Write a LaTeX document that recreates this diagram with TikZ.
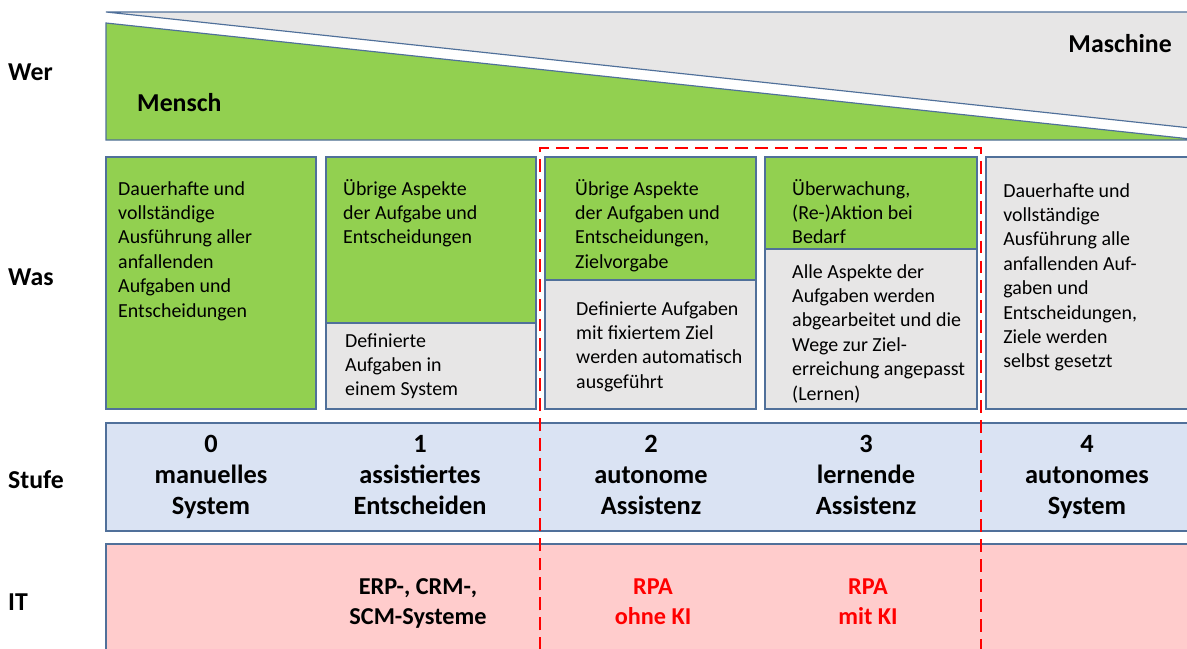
\documentclass[tikz,border=0pt]{standalone}
\usepackage{fontspec}
\setmainfont{Carlito}
\definecolor{mgreen}{HTML}{92D050}
\definecolor{mgray}{HTML}{E7E6E6}
\definecolor{mblue}{HTML}{DAE3F3}
\definecolor{mpink}{HTML}{FFCCCC}
\definecolor{mline}{HTML}{50709A}
\definecolor{mred}{HTML}{FF0000}
\tikzset{
  box/.style={draw=mline, line width=1pt},
  lbl/.style={anchor=base west, inner sep=0pt, font=\fontsize{22}{26}\selectfont\bfseries},
  wastext/.style={anchor=north west, inner sep=0pt, align=left, font=\fontsize{17}{20.8}\selectfont},
  stufetext/.style={anchor=north, inner sep=0pt, align=center, font=\fontsize{22.5}{26.4}\selectfont\bfseries},
  ittext/.style={anchor=north, inner sep=0pt, align=center, font=\fontsize{20.7}{25.5}\selectfont\bfseries},
  reddash/.style={draw=mred, line width=1.7pt, dash pattern=on 11pt off 6pt},
}
\begin{document}
\begin{tikzpicture}[x=0.03cm,y=-0.03cm]
\useasboundingbox (0,0) rectangle (1187,648);
\clip (0,0) rectangle (1187,648);
% Wer row
\filldraw[box, fill=mgray] (106,12) -- (1200,12) -- (1200,129) -- cycle;
\filldraw[box, fill=mgreen] (106,23) -- (1200,140) -- (106,140) -- cycle;
% Was row
\filldraw[box, fill=mgreen] (106,157) rectangle (316,409);
\filldraw[box, fill=mgreen] (326,157) rectangle (536,323);
\filldraw[box, fill=mgray] (326,323) rectangle (536,409);
\filldraw[box, fill=mgreen] (545,157) rectangle (756,280);
\filldraw[box, fill=mgray] (545,280) rectangle (756,409);
\filldraw[box, fill=mgreen] (765,157) rectangle (977,249);
\filldraw[box, fill=mgray] (765,249) rectangle (977,409);
\filldraw[box, fill=mgray] (986,157) rectangle (1200,409);
% Stufe row
\filldraw[box, fill=mblue] (106,423) rectangle (1200,531);
% IT row
\filldraw[box, fill=mpink] (106,544) rectangle (1200,670);
% red dashed frame
\draw[reddash] (540,670) -- (540,148) -- (981,148) -- (981,670);
% left labels
\node[lbl] (wer) at (8,81) {Wer};
\node[lbl] (was) at (8,285) {Was};
\node[lbl] (stufe) at (8,488) {Stufe};
\node[lbl] (it) at (8,610) {IT};
\node[lbl] (mensch) at (137,112) {Mensch};
\node[lbl, anchor=base east] (maschine) at (1172,53) {Maschine};
% Was texts
\node[wastext] (w0) at (118,177.9) {\strut Dauerhafte und\\vollständige\\Ausführung aller\\anfallenden\\Aufgaben und\\Entscheidungen};
\node[wastext] (w1a) at (343,177.9) {\strut Übrige Aspekte\\der Aufgabe und\\Entscheidungen};
\node[wastext] (w1b) at (345,329.9) {\strut Definierte\\Aufgaben in\\einem System};
\node[wastext] (w2a) at (575,177.9) {\strut Übrige Aspekte\\der Aufgaben und\\Entscheidungen,\\Zielvorgabe};
\node[wastext] (w2b) at (576,297.9) {\strut Definierte Aufgaben\\mit fixiertem Ziel\\werden automatisch\\ausgeführt};
\node[wastext] (w3a) at (792,177.9) {\strut Überwachung,\\(Re-)Aktion bei\\Bedarf};
\node[wastext] (w3b) at (792,260.9) {\strut Alle Aspekte der\\Aufgaben werden\\abgearbeitet und die\\Wege zur Ziel-\\erreichung angepasst\\(Lernen)};
\node[wastext] (w4) at (1003,179.9) {\strut Dauerhafte und\\vollständige\\Ausführung alle\\anfallenden Auf-\\gaben und\\Entscheidungen,\\Ziele werden\\selbst gesetzt};
% Stufe texts
\node[stufetext] (s0) at (211,430.3) {\strut 0\\manuelles\\System};
\node[stufetext] (s1) at (420,430.3) {\strut 1\\assistiertes\\Entscheiden};
\node[stufetext] (s2) at (651,430.3) {\strut 2\\autonome\\Assistenz};
\node[stufetext] (s3) at (866,430.3) {\strut 3\\lernende\\Assistenz};
\node[stufetext] (s4) at (1087,430.3) {\strut 4\\autonomes\\System};
% IT texts
\node[ittext] (i1) at (418,573) {\strut ERP-, CRM-,\\SCM-Systeme};
\node[ittext, text=mred] (i2) at (653,573) {\strut RPA\\ohne KI};
\node[ittext, text=mred] (i3) at (868,573) {\strut RPA\\mit KI};
\end{tikzpicture}
\end{document}
